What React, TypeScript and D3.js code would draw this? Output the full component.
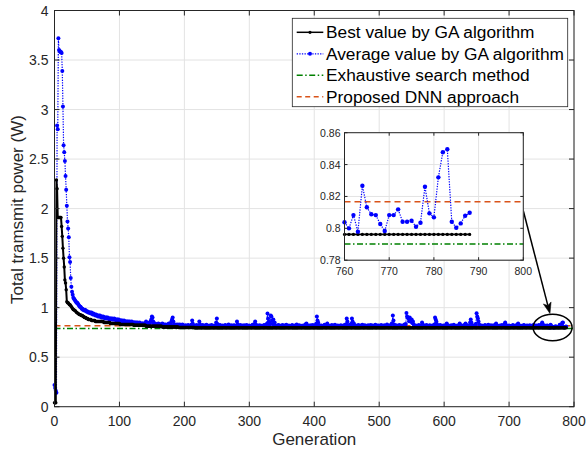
import React from 'react';
import * as d3 from 'd3';

// ---------------- DATA ----------------
// Average value by GA algorithm, generations 0..199
const avgEarly: number[] = [
  .22, .19, .16, .14, 2.84, 2.80, 3.72, 3.60, 3.59, 3.58, 3.58, 3.57, 3.39, 3.03, 2.64, 2.57, 2.48, 2.33, 2.19, 2.03,
  1.87, 1.80, 1.71, 1.51, 1.46, 1.30, 1.21, 1.16, 1.13, 1.10, 1.09, 1.08, 1.07, 1.06, 1.05, 1.05, 1.04, 1.03, 1.02, 1.01,
  1.01, 1.00, .99, .99, .98, .98, .97, .98, .97, .96, .96, .96, .95, .95, .95, .95, .94, .95, .94, .93,
  .94, .93, .93, .92, .93, .92, .92, .91, .92, .91, .92, .91, .90, .91, .90, .91, .90, .90, .89, .90,
  .90, .89, .90, .89, .89, .88, .89, .89, .88, .89, .88, .88, .89, .88, .88, .87, .88, .88, .87, .88,
  .87, .87, .86, .87, .87, .86, .86, .87, .86, .86, .85, .86, .86, .85, .86, .85, .86, .85, .85, .86,
  .85, .85, .84, .85, .85, .84, .85, .84, .85, .84, .84, .85, .84, .84, .83, .84, .84, .83, .84, .84,
  .83, .86, .84, .83, .84, .83, .85, .84, .86, .88, .91, .90, .86, .84, .83, .84, .83, .83, .82, .83,
  .84, .83, .82, .83, .83, .82, .84, .83, .82, .83, .82, .83, .82, .82, .83, .82, .84, .83, .83, .84,
  .86, .88, .90, .86, .83, .82, .82, .83, .82, .82, .83, .82, .82, .83, .82, .82, .82, .83, .82, .82,
];
// Average value by GA algorithm, generations 200..759
const avgLate: number[] = [
  .815, .808, .822, .811, .806, .818, .825, .809, .813, .804, .817, .829, .870, .838, .812, .807, .821, .815, .809, .826,
  .813, .806, .819, .860, .832, .811, .805, .816, .824, .808, .812, .819, .807, .815, .828, .810, .806, .817, .812, .821,
  .809, .815, .826, .811, .804, .818, .812, .807, .822, .850, .890, .836, .814, .808, .819, .826, .810, .805, .816, .821,
  .812, .806, .818, .824, .809, .814, .807, .820, .829, .811, .805, .816, .822, .808, .813, .819, .806, .823, .812, .809,
  .818, .860, .832, .813, .807, .816, .825, .810, .806, .819, .814, .808, .822, .811, .817, .805, .826, .812, .809, .815,
  .821, .808, .813, .806, .818, .827, .811, .807, .835, .860, .829, .814, .806, .819, .812, .809, .823, .815, .808, .817,
  .812, .806, .819, .825, .810, .815, .808, .838, .940, .890, .860, .825, .845, .920, .910, .870, .832, .880, .828, .850,
  .822, .811, .816, .808, .819, .826, .812, .806, .818, .813, .809, .824, .815, .807, .820, .811, .817, .828, .810, .806,
  .815, .821, .809, .813, .806, .818, .825, .811, .816, .808, .820, .812, .807, .829, .814, .809, .818, .823, .810, .806,
  .817, .812, .808, .821, .815, .809, .826, .832, .840, .818, .811, .806, .819, .813, .808, .822, .816, .810, .825, .812,
  .807, .818, .823, .838, .910, .870, .850, .826, .812, .808, .817, .821, .809, .814, .806, .819, .827, .811, .815, .808,
  .840, .822, .813, .807, .818, .811, .816, .824, .809, .806, .819, .813, .828, .810, .815, .807, .821, .812, .817, .809,
  .814, .823, .808, .816, .811, .819, .806, .825, .813, .832, .890, .860, .826, .815, .809, .818, .829, .838, .890, .860,
  .828, .840, .816, .809, .821, .812, .807, .818, .824, .810, .815, .806, .819, .813, .827, .811, .808, .817, .822, .814,
  .809, .816, .806, .823, .812, .818, .810, .826, .815, .807, .820, .813, .809, .817, .828, .811, .806, .819, .814, .821,
  .808, .815, .812, .824, .806, .818, .811, .809, .822, .816, .807, .813, .829, .810, .819, .812, .806, .817, .825, .836,
  .842, .920, .870, .831, .816, .809, .822, .812, .807, .818, .814, .826, .810, .806, .819, .813, .808, .821, .815, .829,
  .818, .836, .947, .910, .900, .890, .862, .900, .880, .858, .880, .845, .860, .832, .816, .809, .821, .812, .818, .807,
  .813, .826, .810, .816, .808, .822, .850, .831, .814, .809, .819, .812, .806, .825, .815, .811, .807, .818, .823, .810,
  .816, .809, .821, .813, .807, .829, .900, .880, .860, .832, .815, .808, .819, .812, .826, .810, .806, .817, .814, .821,
  .809, .815, .823, .811, .840, .826, .813, .807, .818, .812, .809, .822, .816, .806, .819, .828, .811, .814, .808, .817,
  .812, .821, .809, .815, .840, .825, .811, .807, .818, .813, .806, .824, .816, .840, .828, .810, .815, .808, .819, .812,
  .850, .880, .850, .826, .814, .808, .819, .812, .823, .838, .944, .910, .890, .860, .829, .813, .808, .817, .821, .811,
  .815, .807, .818, .824, .810, .813, .806, .819, .827, .812, .809, .816, .822, .808, .814, .820, .811, .806, .825, .817,
  .840, .823, .812, .808, .816, .811, .819, .806, .814, .826, .810, .817, .809, .832, .850, .828, .813, .807, .818, .812,
  .821, .809, .815, .811, .806, .818, .824, .812, .808, .816, .813, .822, .807, .829, .840, .826, .811, .815, .809, .818,
  .812, .807, .819, .825, .810, .814, .806, .817, .821, .813, .808, .816, .823, .811, .809, .818, .814, .806, .827, .812,
  .815, .809, .820, .813, .807, .818, .824, .811, .816, .808, .832, .850, .829, .812, .806, .819, .814, .810, .817, .821,
];
// Average value by GA algorithm, generations 760..788
const avgInset: number[] = [
  .8038, .8000, .8083, .7979, .8267, .8132, .8088, .8083, .8027, .7983, .8083, .8083, .8119, .8041, .8041,
  .8048, .8010, .8035, .8261, .8094, .8069, .8320, .8477, .8496, .8041, .8004, .8031, .8079, .8098,
];
// Best value by GA algorithm as [value, number of generations held]
const bestRuns: [number, number][] = [
  [0.04, 3], [2.29, 1], [2.20, 1], [1.91, 6], [1.82, 1], [1.72, 1], [1.60, 1], [1.50, 1], [1.41, 1],
  [1.28, 1], [1.25, 1], [1.18, 1], [1.06, 1], [1.05, 2], [1.04, 1], [1.03, 2], [1.02, 1], [1.01, 1],
  [1.00, 1], [0.99, 1], [0.98, 2], [0.97, 2], [0.96, 1], [0.95, 2], [0.94, 2], [0.93, 3], [0.92, 3],
  [0.91, 2], [0.90, 3], [0.89, 3], [0.88, 5], [0.87, 6], [0.86, 13], [0.85, 10], [0.84, 15], [0.83, 21],
  [0.822, 19], [0.812, 25], [0.805, 25], [0.80, 25], [0.7962, 573],
];
const exhaustiveValue = 0.7901;
const dnnValue = 0.8167;

const xTicks = [0, 100, 200, 300, 400, 500, 600, 700, 800];
const yTicks = [0, 0.5, 1, 1.5, 2, 2.5, 3, 3.5, 4];
const yTickLabels = ['0', '0.5', '1', '1.5', '2', '2.5', '3', '3.5', '4'];
const insetXTicks = [760, 770, 780, 790, 800];
const insetYTicks = [0.78, 0.80, 0.82, 0.84, 0.86];
const insetYTickLabels = ['0.78', '0.8', '0.82', '0.84', '0.86'];
const legendLabels = [
  'Best value by GA algorithm',
  'Average value by GA algorithm',
  'Exhaustive search method',
  'Proposed DNN approach',
];
const xLabel = 'Generation';
const yLabel = 'Total tramsmit power (W)';

// ---------------- CHART ----------------
const FONT = '"Liberation Sans", Arial, Helvetica, sans-serif';
const AX = '#262626';
const GRID = '#e3e3e3';
const BLUE = '#0000ff';
const GREEN = '#008000';
const ORANGE = '#d95319';

export default function App() {
  const bestValues: number[] = bestRuns.flatMap(([v, n]) => Array(n).fill(v));
  const avgValues: number[] = [...avgEarly, ...avgLate, ...avgInset];
  const gens = d3.range(avgValues.length);

  const x = d3.scaleLinear().domain([0, 800]).range([54.5, 574]);
  const y = d3.scaleLinear().domain([0, 4]).range([406.7, 10.5]);
  const [X0, X1] = x.range();
  const [Y0, Y1] = y.range();

  const ix = d3.scaleLinear().domain([760, 800]).range([344.5, 523.3]);
  const iy = d3.scaleLinear().domain([0.78, 0.86]).range([260.2, 132.7]);
  const [IX0, IX1] = ix.range();
  const [IY0, IY1] = iy.range();

  const lineMain = (vals: number[]) =>
    d3.line<number>().x((_, i) => x(gens[i])).y((d) => y(d))(vals) || '';
  const insetGens = gens.filter((g) => g >= 760);
  const lineInset = (vals: number[]) =>
    d3.line<number>().x((_, i) => ix(insetGens[i])).y((d) => iy(d))(vals) || '';
  const bestInset = insetGens.map((g) => bestValues[g]);
  const avgInsetVals = insetGens.map((g) => avgValues[g]);

  const tick = 5;
  const itick = 3;

  // arrow & ellipse
  const ax1 = IX1, ay1 = iy(0.811);
  const ax2 = x(763), ay2 = y(0.94);
  const ang = Math.atan2(ay2 - ay1, ax2 - ax1);
  const headLen = 11, headW = 4;
  const ux = Math.cos(ang), uy = Math.sin(ang);
  const px = -uy, py = ux;
  const bx = ax2 - ux * headLen, by = ay2 - uy * headLen;
  const nx = ax2 - ux * headLen * 0.75, ny = ay2 - uy * headLen * 0.75;
  const headPath = `M${ax2},${ay2} L${bx + px * headW},${by + py * headW} L${nx},${ny} L${bx - px * headW},${by - py * headW} Z`;

  const legX = 292.3, legY = 18.3, legW = 275.4, legH = 88.4;
  const legRowY = (i: number) => 32.3 + i * 21.5;

  return (
    <svg width={587} height={453} style={{ position: 'absolute', left: 0, top: 0, background: '#fff' }}
      fontFamily={FONT}>
      <rect x={0} y={0} width={587} height={453} fill="#fff" />
      {/* grid */}
      {xTicks.map((t) => (
        <line key={'gx' + t} x1={x(t)} x2={x(t)} y1={Y0} y2={Y1} stroke={GRID} strokeWidth={1} />
      ))}
      {yTicks.map((t) => (
        <line key={'gy' + t} x1={X0} x2={X1} y1={y(t)} y2={y(t)} stroke={GRID} strokeWidth={1} />
      ))}

      {/* reference lines */}
      <line x1={x(0)} x2={x(800)} y1={y(exhaustiveValue)} y2={y(exhaustiveValue)} stroke={GREEN}
        strokeWidth={1.5} strokeDasharray="6,2.5,1.5,2.5" />
      <line x1={x(0)} x2={x(800)} y1={y(dnnValue)} y2={y(dnnValue)} stroke={ORANGE}
        strokeWidth={1.5} strokeDasharray="6,4" />

      {/* average */}
      <path d={lineMain(avgValues)} fill="none" stroke={BLUE} strokeWidth={1.2} strokeDasharray="1.3,1.3" />
      {avgValues.map((v, i) => (
        <circle key={'a' + i} cx={x(gens[i])} cy={y(v)} r={2} fill={BLUE} />
      ))}
      {/* best */}
      <path d={lineMain(bestValues)} fill="none" stroke="#000" strokeWidth={2} />
      {bestValues.map((v, i) => (
        <circle key={'b' + i} cx={x(gens[i])} cy={y(v)} r={1.7} fill="#000" />
      ))}

      {/* axes box */}
      <rect x={X0} y={Y1} width={X1 - X0} height={Y0 - Y1} fill="none" stroke={AX} strokeWidth={1} />
      {xTicks.map((t) => (
        <g key={'tx' + t}>
          <line x1={x(t)} x2={x(t)} y1={Y0} y2={Y0 - tick} stroke={AX} />
          <line x1={x(t)} x2={x(t)} y1={Y1} y2={Y1 + tick} stroke={AX} />
          <text x={x(t)} y={421} textAnchor="middle" dominantBaseline="central" fontSize={14} fill={AX}>{t}</text>
        </g>
      ))}
      {yTicks.map((t, i) => (
        <g key={'ty' + t}>
          <line x1={X0} x2={X0 + tick} y1={y(t)} y2={y(t)} stroke={AX} />
          <line x1={X1} x2={X1 - tick} y1={y(t)} y2={y(t)} stroke={AX} />
          <text x={48.5} y={y(t)} textAnchor="end" dominantBaseline="central" fontSize={14} fill={AX}>{yTickLabels[i]}</text>
        </g>
      ))}
      <text x={(X0 + X1) / 2} y={439} textAnchor="middle" dominantBaseline="central" fontSize={17} fill={AX}>{xLabel}</text>
      <text transform={`translate(17.5,${(Y0 + Y1) / 2 + 1}) rotate(-90)`} textAnchor="middle" dominantBaseline="central"
        fontSize={17} fill={AX}>{yLabel}</text>

      {/* ellipse and arrow */}
      <ellipse cx={x(767)} cy={y(0.8)} rx={19.5} ry={13.3} fill="none" stroke="#000" strokeWidth={1.5} />
      <line x1={ax1} y1={ay1} x2={nx} y2={ny} stroke="#000" strokeWidth={1.5} />
      <path d={headPath} fill="#000" stroke="#000" strokeWidth={0.5} />

      {/* inset */}
      <rect x={IX0} y={IY1} width={IX1 - IX0} height={IY0 - IY1} fill="#fff" />
      {insetXTicks.map((t) => (
        <line key={'igx' + t} x1={ix(t)} x2={ix(t)} y1={IY0} y2={IY1} stroke={GRID} />
      ))}
      {insetYTicks.map((t) => (
        <line key={'igy' + t} x1={IX0} x2={IX1} y1={iy(t)} y2={iy(t)} stroke={GRID} />
      ))}
      <line x1={IX0} x2={IX1} y1={iy(exhaustiveValue)} y2={iy(exhaustiveValue)} stroke={GREEN}
        strokeWidth={1.5} strokeDasharray="6,2.5,1.5,2.5" />
      <line x1={IX0} x2={IX1} y1={iy(dnnValue)} y2={iy(dnnValue)} stroke={ORANGE}
        strokeWidth={1.5} strokeDasharray="6,4" />
      <path d={lineInset(bestInset)} fill="none" stroke="#000" strokeWidth={1.8} />
      {bestInset.map((v, i) => (
        <circle key={'ib' + i} cx={ix(insetGens[i])} cy={iy(v)} r={1.6} fill="#000" />
      ))}
      <path d={lineInset(avgInsetVals)} fill="none" stroke={BLUE} strokeWidth={1.2} strokeDasharray="1.3,1.3" />
      {avgInsetVals.map((v, i) => (
        <circle key={'ia' + i} cx={ix(insetGens[i])} cy={iy(v)} r={2.2} fill={BLUE} />
      ))}
      <rect x={IX0} y={IY1} width={IX1 - IX0} height={IY0 - IY1} fill="none" stroke={AX} strokeWidth={1} />
      {insetXTicks.map((t) => (
        <g key={'itx' + t}>
          <line x1={ix(t)} x2={ix(t)} y1={IY0} y2={IY0 - itick} stroke={AX} />
          <line x1={ix(t)} x2={ix(t)} y1={IY1} y2={IY1 + itick} stroke={AX} />
          <text x={ix(t)} y={271} textAnchor="middle" dominantBaseline="central" fontSize={10.5} fill={AX}>{t}</text>
        </g>
      ))}
      {insetYTicks.map((t, i) => (
        <g key={'ity' + t}>
          <line x1={IX0} x2={IX0 + itick} y1={iy(t)} y2={iy(t)} stroke={AX} />
          <line x1={IX1} x2={IX1 - itick} y1={iy(t)} y2={iy(t)} stroke={AX} />
          <text x={340.5} y={iy(t)} textAnchor="end" dominantBaseline="central" fontSize={10.5} fill={AX}>{insetYTickLabels[i]}</text>
        </g>
      ))}

      {/* legend */}
      <rect x={legX} y={legY} width={legW} height={legH} fill="#fff" stroke={AX} strokeWidth={0.8} />
      {legendLabels.map((lab, i) => {
        const ly = legRowY(i);
        const lx1 = 296.7, lx2 = 323.3;
        let sample;
        if (i === 0) {
          sample = (
            <g>
              <line x1={lx1} x2={lx2} y1={ly} y2={ly} stroke="#000" strokeWidth={1.5} />
              <circle cx={(lx1 + lx2) / 2} cy={ly} r={1.6} fill="#000" />
            </g>
          );
        } else if (i === 1) {
          sample = (
            <g>
              <line x1={lx1} x2={lx2} y1={ly} y2={ly} stroke={BLUE} strokeWidth={1.2} strokeDasharray="1.3,1.3" />
              <circle cx={(lx1 + lx2) / 2} cy={ly} r={2} fill={BLUE} />
            </g>
          );
        } else if (i === 2) {
          sample = <line x1={lx1} x2={lx2} y1={ly} y2={ly} stroke={GREEN} strokeWidth={1.5} strokeDasharray="6,2.5,1.5,2.5" />;
        } else {
          sample = <line x1={lx1} x2={lx2} y1={ly} y2={ly} stroke={ORANGE} strokeWidth={1.5} strokeDasharray="5,3.5" />;
        }
        return (
          <g key={'lg' + i}>
            {sample}
            <text x={326} y={ly} dominantBaseline="central" fontSize={17.3} fill="#000">{lab}</text>
          </g>
        );
      })}
    </svg>
  );
}
